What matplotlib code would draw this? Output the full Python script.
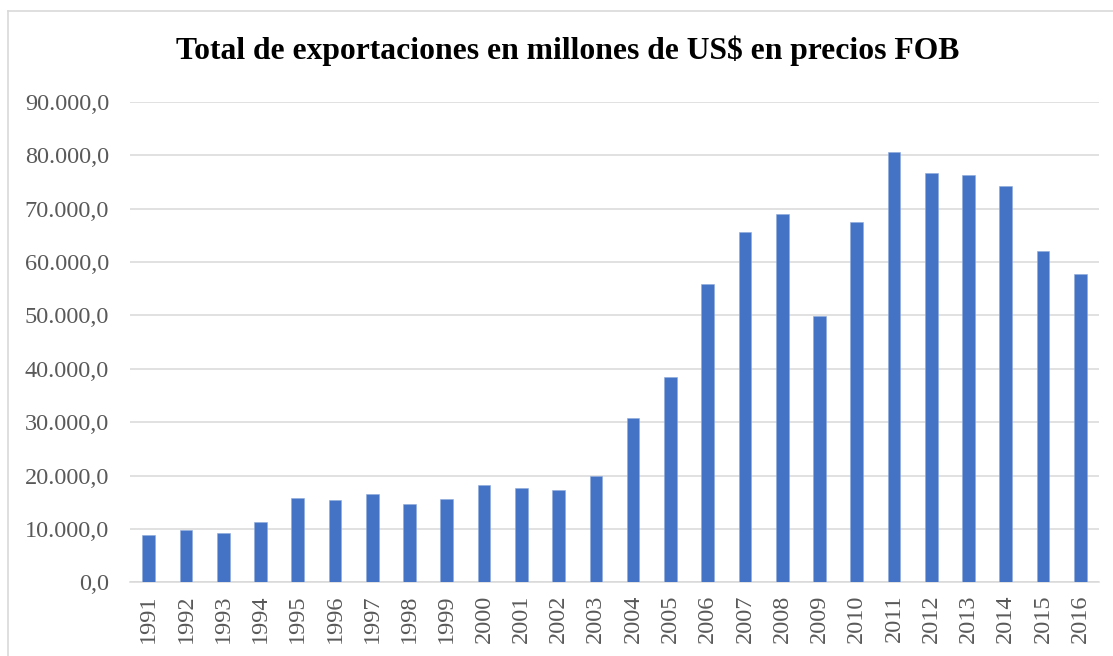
import numpy as np
import matplotlib.pyplot as plt
from matplotlib.lines import Line2D
from matplotlib.ticker import FuncFormatter

# datos (millones de US$ FOB)
anios = [str(a) for a in range(1991, 2017)]
exportaciones = [8860, 9800, 9240, 11300, 15850, 15360, 16600, 14730, 15550,
                 18170, 17610, 17360, 19980, 30850, 38500, 55890, 65690, 69060,
                 49900, 67450, 80680, 76750, 76250, 74250, 62020, 57710]
titulo = 'Total de exportaciones en millones de US$ en precios FOB'

plt.rcParams['font.family'] = ['Liberation Serif', 'DejaVu Serif']

W, H = 1113, 656
fig = plt.figure(figsize=(W / 100, H / 100), dpi=100)
ax = fig.add_axes([130 / W, 1 - 582.3 / H, (1099 - 130) / W, (582.3 - 102) / H])

x = np.arange(len(anios))
ax.bar(x, exportaciones, width=0.34, color='#4472C4', edgecolor='#8FAADC',
       linewidth=0.4, zorder=3)

ax.set_xlim(-0.5, len(anios) - 0.5)
ax.set_ylim(0, 90000)
ax.set_yticks(np.arange(0, 90001, 10000))
ax.yaxis.set_major_formatter(FuncFormatter(
    lambda v, p: f'{v:,.1f}'.replace(',', 'X').replace('.', ',').replace('X', '.')))
ax.set_xticks(x)
ax.set_xticklabels(anios, rotation=90)

ax.grid(axis='y', color='#D9D9D9', linewidth=1.1, zorder=0)
for s in ['top', 'right', 'left']:
    ax.spines[s].set_visible(False)
ax.spines['bottom'].set_color('#D9D9D9')
ax.spines['bottom'].set_linewidth(1.1)
ax.tick_params(axis='both', length=0, labelsize=17.5, colors='#595959')
ax.tick_params(axis='y', pad=15)
ax.tick_params(axis='x', pad=9)

fig.text(568 / W, 1 - 51 / H, titulo, ha='center', va='center',
         fontsize=22.8, fontweight='bold', color='black')

# marco del área del gráfico (solo se ven borde superior e izquierdo)
fig.add_artist(Line2D([8 / W, 1], [1 - 11 / H, 1 - 11 / H], color='#D9D9D9',
                      linewidth=1.2, transform=fig.transFigure))
fig.add_artist(Line2D([8 / W, 8 / W], [0, 1 - 11 / H], color='#D9D9D9',
                      linewidth=1.2, transform=fig.transFigure))

fig.savefig('out.png', dpi=100)
